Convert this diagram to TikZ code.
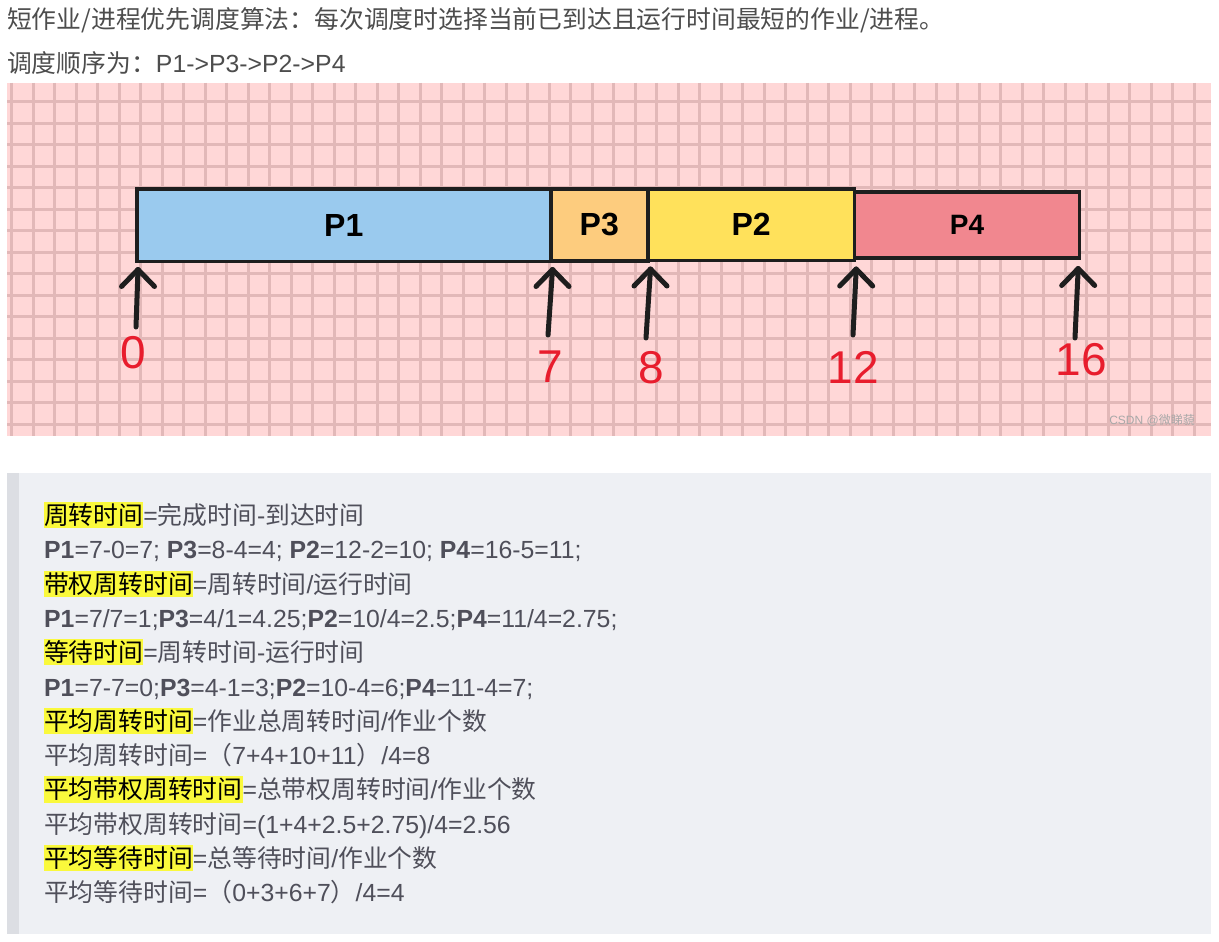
\documentclass[tikz,border=0pt]{standalone}
\usepackage{fontspec}
\setmainfont{Liberation Sans}
\newfontfamily\cjk{Noto Sans CJK SC}
\usetikzlibrary{calc}
\definecolor{bodytxt}{HTML}{4D4D4D}
\definecolor{quotetxt}{HTML}{4F4F5A}
\definecolor{pinkbg}{HTML}{FFD7D7}
\definecolor{gridc}{HTML}{E2B8B8}
\definecolor{quotebg}{HTML}{EEF0F4}
\definecolor{quotebar}{HTML}{DCDEE3}
\definecolor{hly}{HTML}{FAF93C}
\definecolor{cP1}{HTML}{9ACAEE}
\definecolor{cP3}{HTML}{FDCC7E}
\definecolor{cP2}{HTML}{FFE15B}
\definecolor{cP4}{HTML}{F1878F}
\definecolor{edgec}{HTML}{1E1E1E}
\definecolor{numred}{HTML}{E81D2D}
\definecolor{wmc}{HTML}{A8A8A8}
\newcommand\hlt[1]{{\setlength\fboxsep{0pt}\colorbox{hly}{\color{black}\rule[-0.15em]{0pt}{1.06em}#1}}}
\begin{document}
\begin{tikzpicture}[x=1pt,y=-1pt,
  procbox/.style={draw=edgec,line width=3.5pt,anchor=north west,inner sep=0pt,
     font=\fontsize{32}{36}\selectfont\bfseries,text=black},
  arr/.style={line width=5pt,draw=edgec,line cap=round},
  chev/.style={line width=5pt,draw=edgec,line cap=round,line join=round},
  num/.style={text=numred,inner sep=0pt,font=\fontsize{46}{50}\selectfont},
  topline/.style={anchor=base west,inner sep=0pt,text=bodytxt,font=\fontsize{24.8}{30}\selectfont},
  qline/.style={anchor=base west,inner sep=0pt,text=quotetxt,font=\fontsize{24.8}{30}\selectfont}]
\useasboundingbox (0,0) rectangle (1219,942);
\fill[white] (0,0) rectangle (1219,942);

% top text
\node[topline] (t1) at (7,28.5) {{\cjk 短作业/进程优先调度算法：每次调度时选择当前已到达且运行时间最短的作业/进程。}};
\node[topline] (t2) at (7,73) {{\cjk 调度顺序为：}P1->P3->P2->P4};

% pink grid area
\fill[pinkbg] (7,83) rectangle (1211,436);
\begin{scope}
\clip (7,83) rectangle (1211,436);
\foreach \k in {0,...,55} {\draw[gridc,line width=2.6pt] (11.7+21.5*\k,83) -- (11.7+21.5*\k,436);}
\foreach \k in {0,...,15} {\draw[gridc,line width=2.6pt] (7,101.7+21.5*\k) -- (1211,101.7+21.5*\k);}
\end{scope}

% process boxes
\node[procbox,fill=cP1,minimum width=414pt,minimum height=72.2pt] (p1) at (135,187.3) {P1};
\node[procbox,fill=cP3,minimum width=97pt,minimum height=71.7pt] (p3) at (549,187.3) {P3};
\node[procbox,fill=cP2,minimum width=206.7pt,minimum height=71.2pt] (p2) at (646,187.3) {P2};
\node[procbox,fill=cP4,minimum width=225pt,minimum height=66pt,font=\fontsize{28}{30}\selectfont\bfseries] (p4) at (852.7,190) {P4};

% arrows
\coordinate (s0) at (136,327);
\coordinate (s7) at (548,335);
\coordinate (s8) at (646,338);
\coordinate (s12) at (853,335);
\coordinate (s16) at (1075,338);
\coordinate (h0) at ($(p1.south west)+(3,6.5)$);
\coordinate (h7) at ($(p1.south east)+(0,6.5)$);
\coordinate (h8) at ($(p3.south east)+(1,6.5)$);
\coordinate (h12) at ($(p2.south east)+(0,7)$);
\coordinate (h16) at ($(p4.south east)+(-3,9)$);
\foreach \s/\h in {s0/h0,s7/h7,s8/h8,s12/h12,s16/h16} {
  \draw[arr] (\s) -- (\h);
  \draw[chev] ($(\h)+(-16.5,17)$) -- (\h) -- ($(\h)+(16.5,17)$);
}

% numbers
\node[num] (n0) at (133,353) {0};
\node[num] (n7) at (550,367) {7};
\node[num] (n8) at (651,368) {8};
\node[num] (n12) at (853,367) {12};
\node[num] (n16) at (1081,360) {16};

% watermark
\node[text=wmc,inner sep=0pt,font=\fontsize{12}{14}\selectfont] (wm) at (1152,420) {CSDN @{\cjk 微睇藐}};

% quote block
\fill[quotebg] (7,473) rectangle (1211,934);
\fill[quotebar] (7,473) rectangle (19,934);

\node[qline] (q1) at (44,524.5) {\hlt{\cjk 周转时间}={\cjk 完成时间}-{\cjk 到达时间}};
\node[qline] (q2) at (44,558.8) {\textbf{P1}=7-0=7; \textbf{P3}=8-4=4; \textbf{P2}=12-2=10; \textbf{P4}=16-5=11;};
\node[qline] (q3) at (44,593.1) {\hlt{\cjk 带权周转时间}={\cjk 周转时间}/{\cjk 运行时间}};
\node[qline] (q4) at (44,627.4) {\textbf{P1}=7/7=1;\textbf{P3}=4/1=4.25;\textbf{P2}=10/4=2.5;\textbf{P4}=11/4=2.75;};
\node[qline] (q5) at (44,661.7) {\hlt{\cjk 等待时间}={\cjk 周转时间}-{\cjk 运行时间}};
\node[qline] (q6) at (44,696.0) {\textbf{P1}=7-7=0;\textbf{P3}=4-1=3;\textbf{P2}=10-4=6;\textbf{P4}=11-4=7;};
\node[qline] (q7) at (44,730.3) {\hlt{\cjk 平均周转时间}={\cjk 作业总周转时间}/{\cjk 作业个数}};
\node[qline] (q8) at (44,764.6) {{\cjk 平均周转时间}={\cjk （}7+4+10+11{\cjk ）}/4=8};
\node[qline] (q9) at (44,798.9) {\hlt{\cjk 平均带权周转时间}={\cjk 总带权周转时间}/{\cjk 作业个数}};
\node[qline] (q10) at (44,833.2) {{\cjk 平均带权周转时间}=(1+4+2.5+2.75)/4=2.56};
\node[qline] (q11) at (44,867.5) {\hlt{\cjk 平均等待时间}={\cjk 总等待时间}/{\cjk 作业个数}};
\node[qline] (q12) at (44,901.8) {{\cjk 平均等待时间}={\cjk （}0+3+6+7{\cjk ）}/4=4};
\end{tikzpicture}
\end{document}
